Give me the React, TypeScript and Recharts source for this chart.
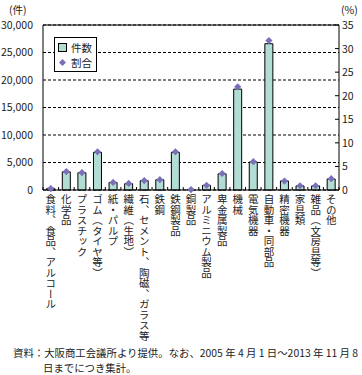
import React from 'react';
import {
  Bar,
  CartesianGrid,
  ComposedChart,
  ReferenceLine,
  Scatter,
  XAxis,
  YAxis,
} from 'recharts';

const categories = [
  '食料、食品、アルコール',
  '化学品',
  'プラスチック',
  'ゴム（タイヤ等）',
  '紙・パルプ',
  '繊維（生地）',
  '石、セメント、陶磁、ガラス等',
  '鉄鋼',
  '鉄鋼製品',
  '銅製品',
  'アルミニウム製品',
  '卑金属製品',
  '機械',
  '電気機器',
  '自動車・同部品',
  '精密機器',
  '家具類',
  '雑品（文房具等）',
  'その他',
];

// 件数
const counts = [
  300, 3300, 3150, 6850, 1380, 1150, 1700, 1880, 6850, 60, 850, 2950, 18350, 5100,
  26600, 1650, 740, 740, 2000,
];

// 割合 (%)
const shares = [
  0.3, 3.9, 3.7, 8.1, 1.6, 1.4, 2.0, 2.2, 8.1, 0.1, 1.0, 3.5, 21.9, 6.0, 31.7, 1.9,
  0.9, 0.9, 2.4,
];

const leftTicks = [0, 5000, 10000, 15000, 20000, 25000, 30000];
const rightTicks = [0, 5, 10, 15, 20, 25, 30, 35];

const data = categories.map((name, i) => ({ name, count: counts[i], share: shares[i] }));

const FONT = '"Noto Sans CJK JP", "Noto Sans", sans-serif';
const BAR_FILL = '#b2ddd5';
const DOT_FILL = '#7a70ba';

function CategoryTick(props: any) {
  const { x, y, payload } = props;
  const half = payload?.offset ?? 7.8;
  const base = y - 3;
  const isLast = payload?.value === categories[categories.length - 1];
  return (
    <g>
      <line x1={x - half} x2={x - half} y1={base} y2={base - 3} stroke="#000" />
      {isLast && <line x1={x + half} x2={x + half} y1={base} y2={base - 3} stroke="#000" />}
      <text
        x={x}
        y={y + 1}
        style={{ writingMode: 'vertical-rl' }}
        fontSize={10.5}
        fontFamily={FONT}
        fill="#222"
      >
        {payload.value}
      </text>
    </g>
  );
}

function RightTick(props: any) {
  const { x, y, payload } = props;
  return (
    <g>
      <line x1={x - 6} x2={x - 2} y1={y} y2={y} stroke="#000" />
      <text x={x + 1} y={y} dy={4} fontSize={10.5} fontFamily={FONT} fill="#222">
        {payload.value}
      </text>
    </g>
  );
}

function Diamond(props: any) {
  const { cx, cy } = props;
  const r = 3.6;
  return (
    <polygon
      points={`${cx},${cy - r} ${cx + r},${cy} ${cx},${cy + r} ${cx - r},${cy}`}
      fill={DOT_FILL}
    />
  );
}

function LegendBox() {
  return (
    <div
      style={{
        position: 'absolute',
        left: 54,
        top: 37,
        border: '1px solid #000',
        background: '#fff',
        width: 38,
        padding: '2px 0 1px 3px',
        fontFamily: FONT,
        fontSize: 10.5,
        lineHeight: '15px',
        color: '#222',
      }}
    >
      <div style={{ display: 'flex', alignItems: 'center' }}>
        <span
          style={{
            display: 'inline-block',
            width: 7,
            height: 7,
            border: '1px solid #000',
            background: BAR_FILL,
            marginRight: 4,
          }}
        />
        件数
      </div>
      <div style={{ display: 'flex', alignItems: 'center' }}>
        <svg width={9} height={9} style={{ marginRight: 4 }}>
          <polygon points="4.5,1 8,4.5 4.5,8 1,4.5" fill={DOT_FILL} />
        </svg>
        割合
      </div>
    </div>
  );
}

export default function App() {
  return (
    <div style={{ position: 'absolute', left: 0, top: 0, width: 362, height: 375, background: '#fff' }}>
      <ComposedChart
        width={362}
        height={375}
        data={data}
        margin={{ top: 25, right: 0, bottom: 0, left: 0 }}
        barCategoryGap="24%"
      >
        <CartesianGrid
          yAxisId="left"
          vertical={false}
          stroke="#000"
          strokeDasharray="3 2"
        />
        <XAxis
          dataKey="name"
          height={185}
          interval={0}
          tickLine={false}
          tickSize={0}
          tickMargin={3}
          axisLine={{ stroke: '#000' }}
          tick={<CategoryTick />}
        />
        <YAxis
          yAxisId="left"
          width={43}
          domain={[0, 30000]}
          ticks={leftTicks}
          interval={0}
          tickLine={false}
          tickMargin={4}
          axisLine={{ stroke: '#000' }}
          tickFormatter={(v: number) => v.toLocaleString('en-US')}
          tick={{ fontSize: 10.5, fontFamily: FONT, fill: '#222' }}
        />
        <YAxis
          yAxisId="right"
          orientation="right"
          width={23}
          domain={[0, 35]}
          ticks={rightTicks}
          interval={0}
          tickLine={false}
          tickSize={0}
          tickMargin={2}
          axisLine={{ stroke: '#000' }}
          tick={<RightTick />}
        />
        <ReferenceLine yAxisId="left" y={30000} stroke="#000" />
        <Bar
          yAxisId="left"
          dataKey="count"
          fill={BAR_FILL}
          stroke="#000"
          strokeWidth={1}
          isAnimationActive={false}
        />
        <Scatter yAxisId="right" dataKey="share" shape={<Diamond />} isAnimationActive={false} />
      </ComposedChart>
      <LegendBox />
      <div style={{ position: 'absolute', left: 9, top: 2, fontSize: 10.5, fontFamily: FONT, color: '#222' }}>
        (件)
      </div>
      <div style={{ position: 'absolute', left: 341, top: 2, fontSize: 10.5, fontFamily: FONT, color: '#222' }}>
        (%)
      </div>
      <div
        style={{
          position: 'absolute',
          left: 13,
          top: 345,
          fontSize: 10.4,
          lineHeight: '15px',
          fontFamily: FONT,
          color: '#222',
          whiteSpace: 'nowrap',
        }}
      >
        <div>資料：大阪商工会議所より提供。なお、2005 年 4 月 1 日～2013 年 11 月 8</div>
        <div style={{ paddingLeft: 30 }}>日までにつき集計。</div>
      </div>
    </div>
  );
}
